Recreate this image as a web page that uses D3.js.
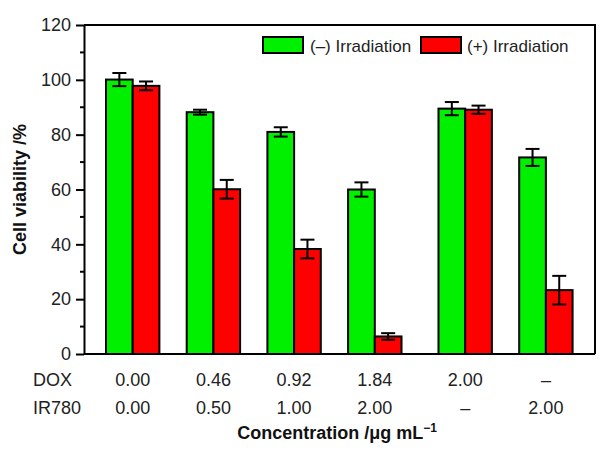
<!DOCTYPE html>
<html><head><meta charset="utf-8">
<script src="https://cdn.jsdelivr.net/npm/d3@7"></script>
<style>body{margin:0;background:#fff;} svg{display:block;font-family:"Liberation Sans",Arial,sans-serif;}</style>
</head><body>
<svg id="c" width="604" height="458"></svg>
<script>
const groups = ["G1","G2","G3","G4","G5","G6"];
const groupPos = [1, 2, 3, 4, 5.12, 6.12];
const doxLabels = ["0.00","0.46","0.92","1.84","2.00","–"];
const irLabels = ["0.00","0.50","1.00","2.00","–","2.00"];
const seriesNames = ["(–) Irradiation","(+) Irradiation"];
const noIrr = [100.1, 88.2, 81.0, 60.0, 89.5, 71.7];
const noIrrErr = [2.4, 0.9, 1.7, 2.6, 2.4, 3.1];
const withIrr = [97.8, 60.1, 38.3, 6.4, 89.1, 23.3];
const withIrrErr = [1.6, 3.4, 3.4, 1.2, 1.5, 5.2];
const yTicks = [0, 20, 40, 60, 80, 100, 120];
const colors = ["#00f000", "#ff0000"];

const svg = d3.select("#c");
const L = 84, R = 595, T = 25, B = 354;
const y = d3.scaleLinear().domain([0, 120]).range([B, T]);
const barW = 26.7;
// group centre (boundary between the two bars)
const xg = d3.scaleLinear().domain([1, 2]).range([132.7, 213.4]);

const series = [
  {vals: noIrr, errs: noIrrErr, color: colors[0], off: -1},
  {vals: withIrr, errs: withIrrErr, color: colors[1], off: 0}
];

// bars
series.forEach(s => {
  const g = svg.append("g");
  g.selectAll("rect").data(groups).join("rect")
    .attr("x", (d, i) => xg(groupPos[i]) + s.off * barW)
    .attr("y", (d, i) => y(s.vals[i]))
    .attr("width", barW)
    .attr("height", (d, i) => y(0) - y(s.vals[i]))
    .attr("fill", s.color).attr("stroke", "#000").attr("stroke-width", 2);
});
// error bars
series.forEach(s => {
  const g = svg.append("g").attr("stroke", "#000").attr("stroke-width", 2);
  groups.forEach((d, i) => {
    const cx = xg(groupPos[i]) + s.off * barW + barW / 2;
    const hi = y(s.vals[i] + s.errs[i]), lo = y(s.vals[i] - s.errs[i]);
    g.append("line").attr("x1", cx).attr("x2", cx).attr("y1", hi).attr("y2", lo);
    g.append("line").attr("x1", cx - 7).attr("x2", cx + 7).attr("y1", hi).attr("y2", hi);
    g.append("line").attr("x1", cx - 7).attr("x2", cx + 7).attr("y1", lo).attr("y2", lo);
  });
});

// frame
svg.append("path").attr("d", `M${L},${T}H${R}V${B}`).attr("fill", "none").attr("stroke", "#000").attr("stroke-width", 2);
svg.append("line").attr("x1", L).attr("x2", R).attr("y1", B).attr("y2", B).attr("stroke", "#000").attr("stroke-width", 2);

// y axis
const ya = svg.append("g").attr("transform", `translate(${L},0)`)
  .call(d3.axisLeft(y).tickValues(yTicks).tickSize(8).tickPadding(5).tickSizeOuter(0));
ya.select(".domain").attr("stroke-width", 2);
ya.selectAll(".tick line").attr("stroke-width", 2);
ya.selectAll("text").attr("font-size", 18).attr("fill", "#222").attr("font-family", "Liberation Sans, Arial, sans-serif");
const minor = d3.range(10, 120, 20);
svg.append("g").selectAll("line").data(minor).join("line")
  .attr("x1", L - 4).attr("x2", L).attr("y1", d => y(d)).attr("y2", d => y(d))
  .attr("stroke", "#000").attr("stroke-width", 2);

// y label
svg.append("text").attr("transform", `translate(26,${(T + B) / 2}) rotate(-90)`)
  .attr("text-anchor", "middle").attr("font-size", 18).attr("font-weight", "bold").attr("fill", "#111")
  .text("Cell viability /%");

// table rows
const rowFont = 18;
svg.append("text").attr("x", 33).attr("y", 386).attr("font-size", rowFont).attr("fill", "#222").text("DOX");
svg.append("text").attr("x", 33).attr("y", 414).attr("font-size", rowFont).attr("fill", "#222").text("IR780");
svg.append("g").selectAll("text").data(doxLabels).join("text")
  .attr("x", (d, i) => xg(groupPos[i])).attr("y", 386).attr("text-anchor", "middle")
  .attr("font-size", rowFont).attr("fill", "#222").text(d => d);
svg.append("g").selectAll("text").data(irLabels).join("text")
  .attr("x", (d, i) => xg(groupPos[i])).attr("y", 414).attr("text-anchor", "middle")
  .attr("font-size", rowFont).attr("fill", "#222").text(d => d);

// x title
const xt2 = svg.append("text").attr("x", 337).attr("y", 439).attr("text-anchor", "middle")
  .attr("font-size", 18).attr("font-weight", "bold").attr("fill", "#111");
xt2.append("tspan").text("Concentration /μg mL");
xt2.append("tspan").attr("dy", -7).attr("font-size", 12).text("−1");

// legend
const legX = [263, 421], legTextX = [310, 467];
seriesNames.forEach((n, i) => {
  svg.append("rect").attr("x", legX[i]).attr("y", 37).attr("width", 40).attr("height", 16)
    .attr("fill", colors[i]).attr("stroke", "#000").attr("stroke-width", 2);
  svg.append("text").attr("x", legTextX[i]).attr("y", 52).attr("font-size", 17).attr("fill", "#222").text(n);
});
</script>
</body></html>
